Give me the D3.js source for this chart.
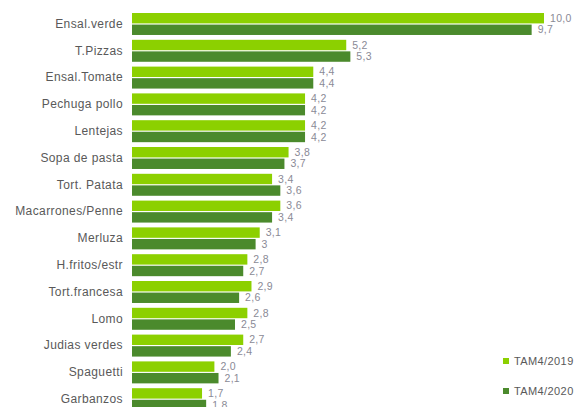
<!DOCTYPE html>
<html>
<head>
<meta charset="utf-8">
<script src="https://cdn.jsdelivr.net/npm/d3@7"></script>
<style>
  html, body { margin: 0; padding: 0; background: #fff; }
  svg { display: block; font-family: "Liberation Sans", Arial, sans-serif; }
</style>
</head>
<body>
<svg id="chart" width="577" height="407"></svg>
<script>
const categories = ["Ensal.verde","T.Pizzas","Ensal.Tomate","Pechuga pollo","Lentejas","Sopa de pasta","Tort. Patata","Macarrones/Penne","Merluza","H.fritos/estr","Tort.francesa","Lomo","Judias verdes","Spaguetti","Garbanzos"];
const series = ["TAM4/2019","TAM4/2020"];
const values2019 = [10.0,5.2,4.4,4.2,4.2,3.8,3.4,3.6,3.1,2.8,2.9,2.8,2.7,2.0,1.7];
const values2020 = [9.7,5.3,4.4,4.2,4.2,3.7,3.6,3.4,3.0,2.7,2.6,2.5,2.4,2.1,1.8];
const labels2019 = ["10,0","5,2","4,4","4,2","4,2","3,8","3,4","3,6","3,1","2,8","2,9","2,8","2,7","2,0","1,7"];
const labels2020 = ["9,7","5,3","4,4","4,2","4,2","3,7","3,6","3,4","3","2,7","2,6","2,5","2,4","2,1","1,8"];
const colors = ["#8cd000","#4b8a2c"];

const svg = d3.select("#chart");
const step = 26.8;
const y = d3.scaleBand().domain(categories)
  .range([13 - 0.09*step, 13 - 0.09*step + 15*step])
  .paddingInner(0.18).paddingOuter(0.09);
const ySub = d3.scaleBand().domain(series).range([0, y.bandwidth()]).paddingInner(0.1);
const x = d3.scaleLinear().domain([0, 10]).range([132, 544]);

const rows = categories.map((c, i) => ({
  cat: c,
  items: [
    {s: series[0], v: values2019[i], l: labels2019[i], col: colors[0]},
    {s: series[1], v: values2020[i], l: labels2020[i], col: colors[1]}
  ]
}));

const g = svg.selectAll("g.row").data(rows).join("g")
  .attr("class", "row")
  .attr("transform", d => `translate(0,${y(d.cat)})`);

g.selectAll("rect").data(d => d.items).join("rect")
  .attr("x", x(0))
  .attr("y", d => ySub(d.s))
  .attr("width", d => x(d.v) - x(0))
  .attr("height", ySub.bandwidth())
  .attr("fill", d => d.col);

g.selectAll("text.val").data(d => d.items).join("text")
  .attr("class", "val")
  .attr("x", d => x(d.v) + 6)
  .attr("y", d => ySub(d.s) + ySub.bandwidth()/2)
  .attr("dy", "0.35em")
  .attr("font-size", 10.5)
  .attr("letter-spacing", "0.3px")
  .attr("fill", "#8a8a96")
  .text(d => d.l);

const yAxis = d3.axisLeft(y).tickSize(0).tickPadding(9);
const ax = svg.append("g").attr("transform", `translate(${x(0)},0)`).call(yAxis);
ax.select(".domain").remove();
ax.selectAll("text").attr("font-size", 12).attr("fill", "#595959")
  .attr("letter-spacing", "0.4px")
  .attr("font-family", "Liberation Sans, Arial, sans-serif");

const legend = svg.append("g");
series.forEach((s, i) => {
  const ly = 361 + i*30;
  legend.append("rect").attr("x", 503).attr("y", ly - 3).attr("width", 6).attr("height", 6).attr("fill", colors[i]);
  legend.append("text").attr("x", 514).attr("y", ly).attr("dy", "0.35em")
    .attr("font-size", 11).attr("letter-spacing", "0.4px").attr("fill", "#595959").text(s);
});
</script>
</body>
</html>
